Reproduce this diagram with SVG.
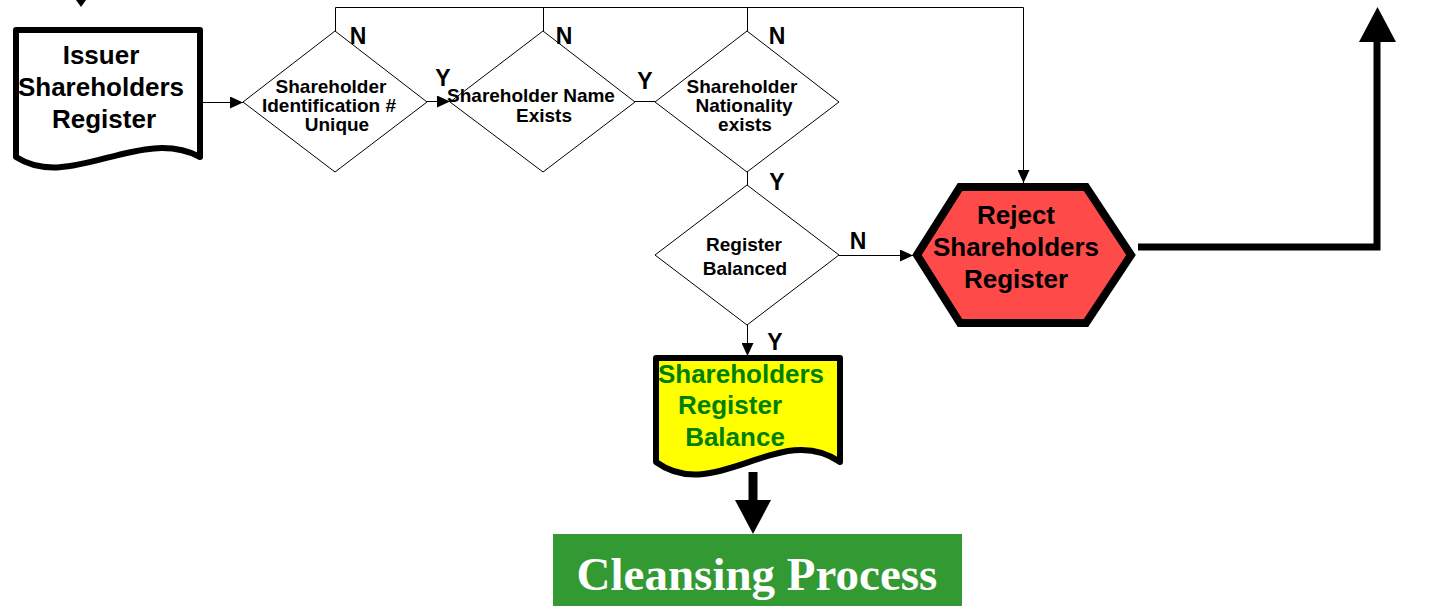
<svg xmlns="http://www.w3.org/2000/svg" width="1454" height="606" viewBox="0 0 1454 606">
  <defs>
    <style>
      .t { font-family: "Liberation Sans", Arial, sans-serif; font-weight: bold; text-anchor: middle; fill: #000; }
      .big { font-size: 26px; }
      .dia { font-size: 19px; }
      .lbl { font-size: 23px; text-anchor: middle; font-family: "Liberation Sans", Arial, sans-serif; font-weight: bold; }
      .decision { fill: #fff; stroke: #000; stroke-width: 1; }
      .doc { stroke: #000; stroke-width: 6; stroke-linejoin: round; }
      .thin { fill: none; stroke: #000; stroke-width: 1; }
      .thick { fill: none; stroke: #000; stroke-width: 7; }
    </style>
    <marker id="ah" viewBox="0 0 13 12" refX="13" refY="6" markerWidth="13" markerHeight="12" markerUnits="userSpaceOnUse" orient="auto">
      <path d="M0,0 L13,6 L0,12 Z" fill="#000"/>
    </marker>
  </defs>
  <rect width="1454" height="606" fill="#fff"/>

  <!-- connectors -->
  <g id="connectors">
    <!-- incoming from above -->
    <path d="M81,-4 L81,0" class="thin"/>
    <polygon points="76,0 86,0 81,7" fill="#000"/>
    <path d="M200,102.5 L243,102.5" class="thin" marker-end="url(#ah)"/>
    <path d="M427,101.5 L450,101.5" class="thin" marker-end="url(#ah)"/>
    <path d="M635,101.5 L655,101.5" class="thin"/>
    <!-- N branches to reject -->
    <path d="M335.5,31 L335.5,7.5 L1023.5,7.5 L1023.5,183" class="thin" marker-end="url(#ah)"/>
    <path d="M543.5,31 L543.5,7.5" class="thin"/>
    <path d="M747.5,31 L747.5,7.5" class="thin"/>
    <path d="M747.5,172 L747.5,185" class="thin"/>
    <path d="M839,255.5 L913,255.5" class="thin" marker-end="url(#ah)"/>
    <path d="M747.5,325 L747.5,356" class="thin" marker-end="url(#ah)"/>
    <!-- reject output -->
    <path d="M1138,247 L1377,247 L1377,40" class="thick"/>
    <polygon points="1359,42 1396,42 1377.5,7" fill="#000"/>
    <!-- to cleansing -->
    <path d="M753,472 L753,502" fill="none" stroke="#000" stroke-width="9"/>
    <polygon points="735,500 771,500 753,534" fill="#000"/>
  </g>

  <g id="issuer-register">
    <path d="M16,30 L200,30 L200,157 C140,125 70,192 16,157 Z" fill="#fff" class="doc"/>
    <text class="t big" x="101" y="64">Issuer</text>
    <text class="t big" x="101" y="96">Shareholders</text>
    <text class="t big" x="104" y="128">Register</text>
  </g>

  <g id="check-id">
    <polygon points="243,102 335,31 427,102 335,172" class="decision"/>
    <text class="t dia" x="331" y="93">Shareholder</text>
    <text class="t dia" x="329" y="112">Identification #</text>
    <text class="t dia" x="337" y="131">Unique</text>
    <text class="lbl" x="443" y="86">Y</text>
    <text class="lbl" x="358" y="44">N</text>
  </g>

  <g id="check-name">
    <polygon points="450,102 543,31 635,102 543,172" class="decision"/>
    <text class="t dia" x="531" y="102">Shareholder Name</text>
    <text class="t dia" x="544" y="122">Exists</text>
    <text class="lbl" x="564" y="44">N</text>
    <text class="lbl" x="645" y="89">Y</text>
  </g>

  <g id="check-nationality">
    <polygon points="655,102 747,31 839,102 747,172" class="decision"/>
    <text class="t dia" x="742" y="93">Shareholder</text>
    <text class="t dia" x="744" y="112">Nationality</text>
    <text class="t dia" x="745" y="131">exists</text>
    <text class="lbl" x="777" y="44">N</text>
    <text class="lbl" x="777" y="190">Y</text>
  </g>

  <g id="check-balanced">
    <polygon points="655,255 747,185 839,255 747,325" class="decision"/>
    <text class="t dia" x="744" y="251">Register</text>
    <text class="t dia" x="745" y="275">Balanced</text>
    <text class="lbl" x="858" y="249">N</text>
    <text class="lbl" x="775" y="350">Y</text>
  </g>

  <g id="reject">
    <polygon points="917,255 960,187 1086,187 1131,255 1086,323 960,323" fill="#FF4A4A" stroke="#000" stroke-width="8" stroke-linejoin="miter"/>
    <text class="t big" x="1016" y="224">Reject</text>
    <text class="t big" x="1016" y="256">Shareholders</text>
    <text class="t big" x="1016" y="288">Register</text>
  </g>

  <g id="register-balance">
    <path d="M656,358 L840,358 L840,462 C780,420 715,505 656,462 Z" fill="#FFFF00" class="doc"/>
    <g class="t big" style="fill:#008000">
      <text x="741" y="383">Shareholders</text>
      <text x="730" y="414">Register</text>
      <text x="735" y="446">Balance</text>
    </g>
  </g>

  <g id="cleansing">
    <rect x="553" y="534" width="409" height="72" fill="#339933"/>
    <text x="757" y="590" font-family="'Liberation Serif', 'Times New Roman', serif" font-weight="bold" font-size="47" fill="#fff" text-anchor="middle">Cleansing Process</text>
  </g>
</svg>
